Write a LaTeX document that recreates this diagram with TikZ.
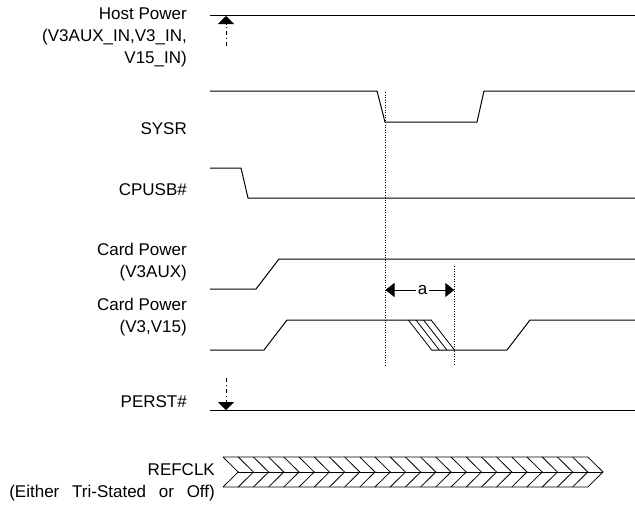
\documentclass[tikz,border=0pt]{standalone}
\usepackage{fontspec}
\setmainfont{Liberation Sans}
\usetikzlibrary{arrows.meta}

\begin{document}
\begin{tikzpicture}[x=1pt,y=-1pt,
    sig/.style={line width=1pt},
    lbl/.style={font=\fontsize{17}{22}\selectfont,align=right,anchor=base east,inner sep=0pt},
    guide/.style={line width=0.7pt,dash pattern=on 1pt off 1.5pt},
    hint/.style={line width=1pt,dash pattern=on 4pt off 3pt on 1pt off 3pt,-{Triangle[width=16pt,length=8pt]}},
    span/.style={line width=1pt,{Triangle[width=14pt,length=9pt]}-{Triangle[width=14pt,length=9pt]}},
    clk/.style={line width=0.8pt}]
  \useasboundingbox (0,0) rectangle (635,509);
  \node[lbl] (host) at (187,63.7) {Host Power\\(V3AUX\_IN,V3\_IN,\\V15\_IN)};
  \node[lbl] (sysr) at (187,134) {SYSR};
  \node[lbl] (cpusb) at (187,195) {CPUSB\#};
  \node[lbl] (cardaux) at (187,277) {Card Power\\(V3AUX)};
  \node[lbl] (cardmain) at (187,332) {Card Power\\(V3,V15)};
  \node[lbl] (perst) at (187,407.3) {PERST\#};
  \node[lbl] (refclk) at (215,497.7) {REFCLK\\{\spaceskip=0.75em (Either Tri-Stated or Off)}};

  \draw[sig] (210,15) -- (635,15);
  \draw[hint] (226,46) -- (226,16);
  \draw[sig] (210,91) -- (377,91) -- (385,122) -- (477,122) -- (484,91) -- (635,91);
  \draw[sig] (210,168) -- (241,168) -- (248,198) -- (635,198);
  \draw[sig] (210,289) -- (256,289) -- (279,259) -- (635,259);
  \draw[sig] (210,350) -- (264,350) -- (287,320) -- (431.7,320);
  \draw[sig] (431.7,350) -- (507,350) -- (530,320) -- (635,320);
  \foreach \k in {0,...,3}
    \draw[line width=0.8pt] (408.3+7.6*\k,320) -- (431.7+7.6*\k,350);
  \draw[sig] (210,410.7) -- (635,410.7);
  \draw[hint] (226,378) -- (226,410);

  \coordinate (drop) at (385.5,92);
  \coordinate (dropend) at (385.5,365);
  \coordinate (off) at (454.3,266);
  \coordinate (offend) at (454.3,365);
  \draw[guide] (drop) -- (dropend);
  \draw[guide] (off) -- (offend);
  \draw[span] (drop |- 0,290) -- (off |- 0,290)
    node[pos=0.54,fill=white,inner sep=2pt,font=\fontsize{17}{22}\selectfont] (tpvperl) {a};

  \draw[clk] (223,457) -- (587.8,457) -- (603,472) -- (587.8,487) -- (223,487);
  \draw[clk] (238.2,472) -- (603,472);
  \foreach \k in {0,...,23}
    \draw[clk] (223+15.2*\k,457) -- (238.2+15.2*\k,472) -- (223+15.2*\k,487);
\end{tikzpicture}
\end{document}
